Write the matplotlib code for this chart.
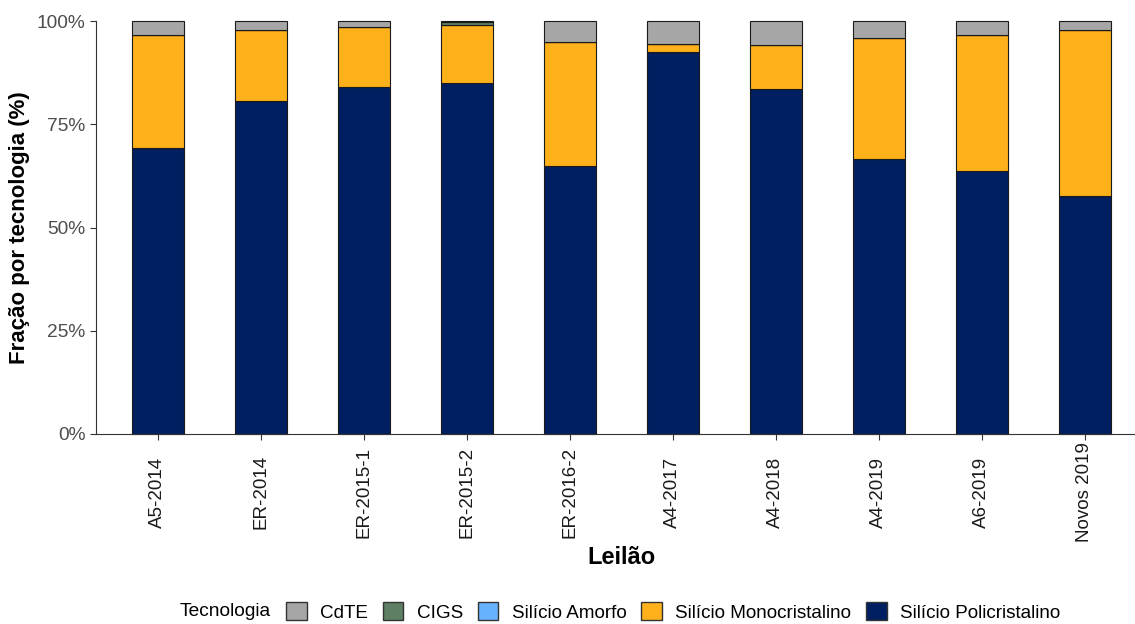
import matplotlib.pyplot as plt
import numpy as np
from matplotlib.patches import Patch
from matplotlib.ticker import PercentFormatter

plt.rcParams['font.family'] = ['Liberation Sans', 'DejaVu Sans']

leiloes = ["A5-2014", "ER-2014", "ER-2015-1", "ER-2015-2", "ER-2016-2",
           "A4-2017", "A4-2018", "A4-2019", "A6-2019", "Novos 2019"]

# fracao por tecnologia (%), de baixo para cima
policristalino = [69.2, 80.6, 84.0, 84.9, 64.9, 92.4, 83.5, 66.6, 63.7, 57.6]
monocristalino = [27.4, 17.1, 14.5, 14.2, 29.9, 2.1, 10.7, 29.4, 32.9, 40.1]
amorfo = [0, 0, 0, 0, 0, 0, 0, 0, 0, 0]
cigs = [0, 0, 0, 0.6, 0, 0, 0, 0, 0, 0]
cdte = [3.4, 2.3, 1.5, 0.3, 5.2, 5.5, 5.8, 4.0, 3.4, 2.3]

series = [("Silício Policristalino", policristalino, "#001f60"),
          ("Silício Monocristalino", monocristalino, "#ffb11b"),
          ("Silício Amorfo", amorfo, "#66b2ff"),
          ("CIGS", cigs, "#5e7f63"),
          ("CdTE", cdte, "#a6a6a6")]

fig = plt.figure(figsize=(11.35, 6.24), dpi=100)
ax = fig.add_axes([96 / 1135, 190 / 624, 1050.6 / 1135, 413 / 624])

x = np.arange(len(leiloes))
base = np.zeros(len(leiloes))
for nome, vals, cor in series:
    vals = np.array(vals)
    ax.bar(x, vals, 0.5, bottom=base, color=cor, edgecolor="#1a1a1a",
           linewidth=0.8, clip_on=False)
    base += vals

ax.set_xlim(-0.6, 9.6)
ax.set_ylim(0, 100)
ax.set_yticks([0, 25, 50, 75, 100])
ax.yaxis.set_major_formatter(PercentFormatter(decimals=0))
ax.set_xticks(x)
ax.set_xticklabels(leiloes, rotation=90, fontsize=13.5, color="#1a1a1a",
                   va="center", ha="center")
ax.tick_params(axis="y", labelsize=13.8, labelcolor="#4d4d4d", color="#333333", length=4)
ax.tick_params(axis="x", color="#333333", length=4, pad=38)
for s in ["top", "right"]:
    ax.spines[s].set_visible(False)
ax.spines["left"].set_color("#333333")
ax.spines["bottom"].set_color("#333333")

ax.set_ylabel("Fração por tecnologia (%)", fontsize=16, fontweight="bold", labelpad=5)
fig.text(621 / 1135, 1 - 558 / 624, "Leilão", fontsize=17, fontweight="bold",
         ha="center", va="center")

handles = [Patch(facecolor=cor, edgecolor="#333333", label=nome)
           for nome, vals, cor in series[::-1]]
fig.text(180 / 1135, 1 - 612 / 624, "Tecnologia", fontsize=13.8, va="center")
fig.legend(handles=handles, ncol=5, loc="center left",
           bbox_to_anchor=(286 / 1135, 1 - 612 / 624), frameon=False,
           fontsize=13.6, handlelength=1.1, handleheight=1.1, columnspacing=0.78,
           handletextpad=0.7, borderaxespad=0, borderpad=0)

fig.savefig("out.png", dpi=100)
